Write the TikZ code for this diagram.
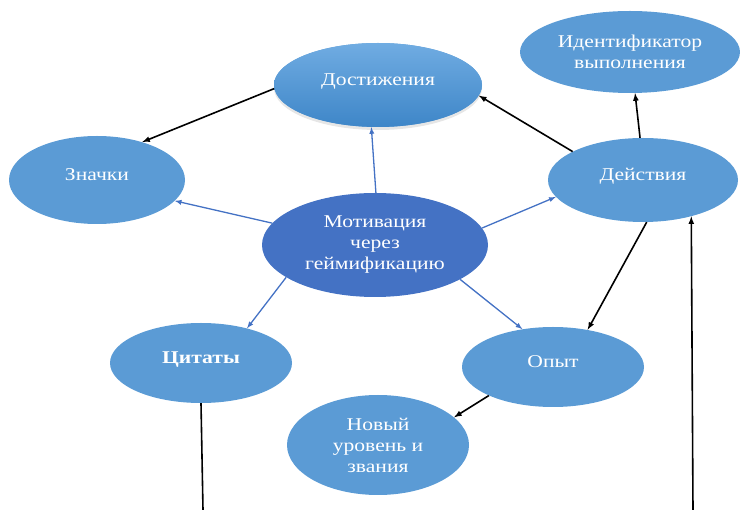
\documentclass[tikz,border=0pt]{standalone}
\usepackage{fontspec}
\setmainfont{Liberation Serif}[FakeStretch=1.2]
\usetikzlibrary{
    shapes.geometric,
    arrows,
    shadows
}
\definecolor{lblue}{HTML}{5B9BD5}
\definecolor{dblue}{HTML}{4472C4}
\tikzset{ell/.style={ellipse, fill=lblue, text=white, inner sep=0pt, align=center, font=\fontsize{18}{21}\selectfont}}
\tikzset{lift/.style={text depth=11pt}}
\tikzset{blu/.style={draw=dblue, line width=1.3pt, -latex}}
\tikzset{blk/.style={draw=black, line width=1.6pt, -latex}}

\begin{document}
\begin{tikzpicture}[x=1pt, y=-1pt]
                        \useasboundingbox (0,0) rectangle (740,510);

                        \node[ell, minimum width=226pt, minimum height=104pt, fill=dblue] (mot) at (375,245) {Мотивация\\через\\геймификацию};
                        \node[ell, lift, minimum width=208pt, minimum height=84pt,
                              top color={rgb,255:red,112;green,172;blue,226},
                              bottom color={rgb,255:red,62;green,134;blue,200},
                              drop shadow={opacity=0.2, shadow xshift=0pt, shadow yshift=-3pt}] (dost) at (378,85) {Достижения};
                        \node[ell, minimum width=220pt, minimum height=82pt] (ident) at (630,52) {Идентификатор\\выполнения};
                        \node[ell, lift, minimum width=190pt, minimum height=84pt] (deist) at (643,180) {Действия};
                        \node[ell, lift, minimum width=176pt, minimum height=88pt] (znach) at (97,180) {Значки};
                        \node[ell, lift, minimum width=182pt, minimum height=80pt, font=\fontsize{18}{21}\selectfont\bfseries] (tsit) at (201,363) {Цитаты};
                        \node[ell, lift, minimum width=182pt, minimum height=80pt] (opyt) at (553,367) {Опыт};
                        \node[ell, minimum width=182pt, minimum height=100pt] (novy) at (378,445) {Новый\\уровень и\\звания};

                        \coordinate (tsitend) at (203,510);
                        \coordinate (deistend) at (693,510);

                        \draw[blu] (mot.89) -- (dost.261);
                        \draw[blu] (mot.168) -- (znach.345);
                        \draw[blu] (mot.9) -- (deist.191);
                        \draw[blu] (mot.200) -- (tsit.37);
                        \draw[blu] (mot.338) -- (opyt.129);

                        \draw[blk] (dost.182) -- (znach.40);
                        \draw[blk] (deist.158) -- (dost.354);
                        \draw[blk] (deist.94) -- (ident.277);
                        \draw[blk] (deist.275) -- (opyt.47);
                        \draw[blk] (opyt.204) -- (novy.20);
                        \draw[blk, -] (tsit.south) -- (tsitend);
                        \draw[blk] (deistend) -- (deist.323);
                    \end{tikzpicture}
\end{document}
